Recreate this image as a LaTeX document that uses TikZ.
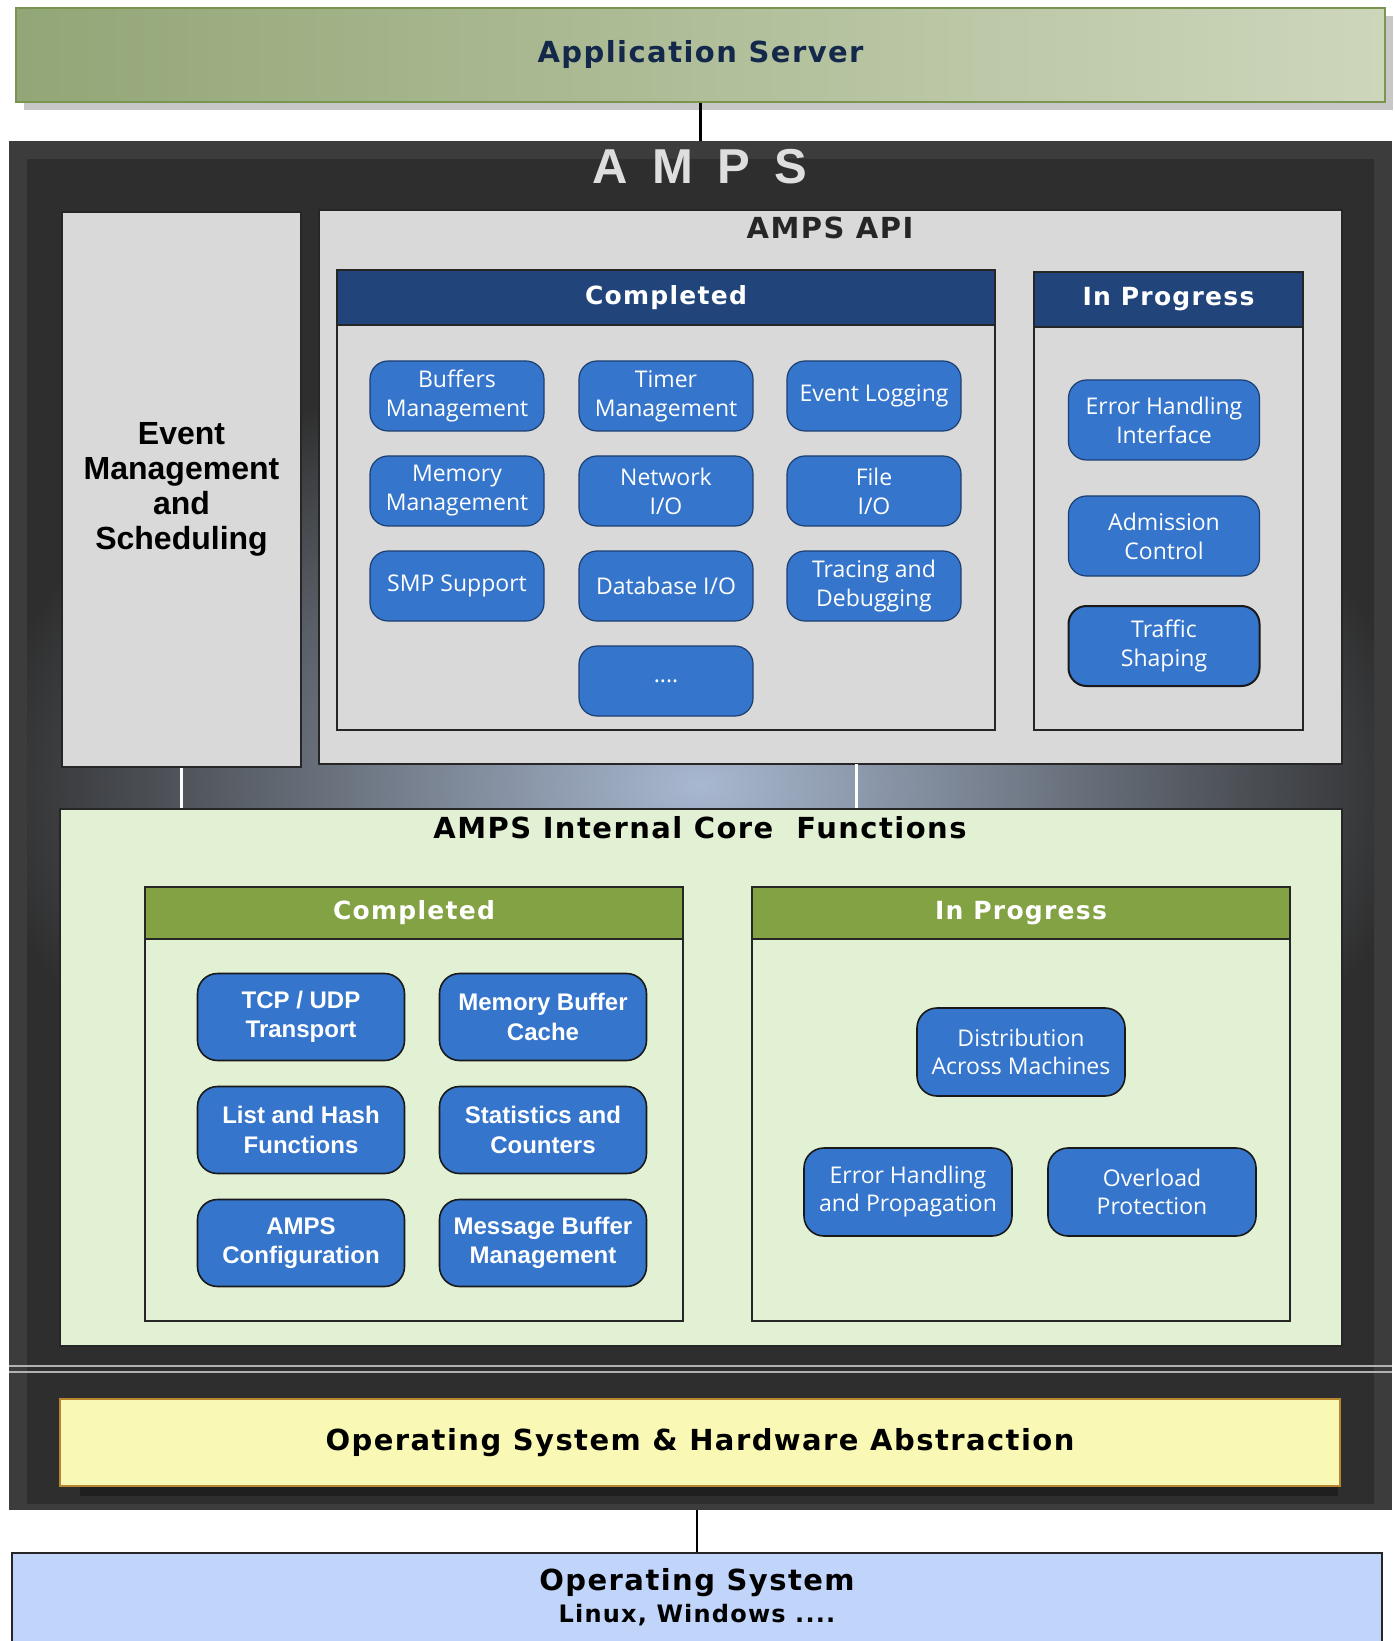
\documentclass[tikz,border=0pt]{standalone}
\usepackage{fontspec}
\setmainfont{Liberation Sans}
\newfontfamily\spacedfont[LetterSpace=5]{DejaVu Sans}
\newfontfamily\ampsfont[LetterSpace=50]{Liberation Sans}
\newfontfamily\boxfont{Open Sans}

\definecolor{frameouter}{HTML}{3C3C3C}
\definecolor{frameinner}{HTML}{2E2E2E}
\definecolor{glow}{HTML}{A8B8D0}
\definecolor{panelgrey}{HTML}{D9D9D9}
\definecolor{headblue}{HTML}{21457A}
\definecolor{boxblue}{HTML}{3575CC}
\definecolor{boxline}{HTML}{1D3F70}
\definecolor{coregreen}{HTML}{E2F1D4}
\definecolor{headgreen}{HTML}{82A244}
\definecolor{absyellow}{HTML}{F9F9B5}
\definecolor{absline}{HTML}{B8862E}
\definecolor{osblue}{HTML}{C1D4F9}
\definecolor{appdark}{HTML}{93A677}
\definecolor{applight}{HTML}{CDD6BB}
\definecolor{appline}{HTML}{7A9550}
\definecolor{apptext}{HTML}{13284A}

\tikzset{
  titletext/.style={font=\spacedfont\bfseries\fontsize{14.5}{17}\selectfont},
  panel/.style={draw=black!85, line width=0.8pt, inner sep=0pt},
  bluehead/.style={panel, fill=headblue, text=white, anchor=north,
    font=\spacedfont\bfseries\fontsize{12.5}{15}\selectfont},
  greenhead/.style={panel, fill=headgreen, text=white, anchor=north,
    font=\spacedfont\bfseries\fontsize{12.5}{15}\selectfont},
  apibox/.style={draw=boxline, line width=0.6pt, fill=boxblue, text=white,
    rounded corners=9pt, align=center, inner sep=0pt,
    minimum width=87pt, minimum height=35pt,
    font=\boxfont\fontsize{11.5}{14.5}\selectfont},
  progbox/.style={apibox, minimum width=95.5pt, minimum height=40pt},
  corebox/.style={draw=black!90, line width=0.8pt, fill=boxblue, text=white,
    rounded corners=10pt, align=center, inner sep=0pt,
    minimum width=103.5pt, minimum height=43.5pt,
    font=\bfseries\fontsize{12}{14.6}\selectfont},
  coreprog/.style={corebox, minimum width=104pt, minimum height=44pt,
    font=\boxfont\fontsize{11.5}{14}\selectfont},
}

\begin{document}
\begin{tikzpicture}[x=0.5pt, y=-0.5pt]
  \useasboundingbox (0,0) rectangle (1394,1641);
  \fill[white] (0,0) rectangle (1394,1641);

  % Application server on top
  \fill[black!22] (24,16) rectangle (1393,110);
  \node[draw=appline, line width=0.8pt, left color=appdark, right color=applight,
    minimum width=684.5pt, minimum height=47pt, inner sep=0pt,
    text=apptext, titletext] (appserver) at (700.5,55) {Application Server};

  % The dark AMPS frame
  \node[fill=frameouter, minimum width=691.5pt, minimum height=684.5pt,
    inner sep=0pt] (amps) at (700.5,825.5) {};
  \fill[frameinner] (27,159) rectangle (1374,1504);
  \begin{scope}
    \clip (27,159) rectangle (1374,1362);
    \shade[inner color=glow, outer color=frameinner] (700,785)
      ellipse [x radius=360pt, y radius=225pt];
  \end{scope}
  \node[text=black!13, font=\ampsfont\bfseries\fontsize{24.5}{28}\selectfont]
    (ampstitle) at (700,167) {AMPS};

  % Event management and the API
  \node[panel, fill=panelgrey, minimum width=119.5pt, minimum height=277.5pt,
    align=center, font=\bfseries\fontsize{16}{17.5}\selectfont]
    (event) at (181.5,489.5) {Event\\Management\\and\\Scheduling};
  \node[panel, fill=panelgrey, minimum width=511.5pt, minimum height=277pt]
    (api) at (830.5,487) {};
  \node[titletext, text=black!85] (apititle) at (830,228) {AMPS API};

  \node[panel, fill=panelgrey, minimum width=329pt, minimum height=230pt]
    (apidone) at (666,500) {};
  \node[bluehead, minimum width=329pt, minimum height=27.5pt]
    (apidonehead) at (apidone.north) {Completed};
  \node[panel, fill=panelgrey, minimum width=134.5pt, minimum height=229pt]
    (apiprog) at (1168.5,501) {};
  \node[bluehead, minimum width=134.5pt, minimum height=27.5pt]
    (apiproghead) at (apiprog.north) {In Progress};

  % API boxes
  \node[apibox] (buffers) at (457,396) {Buffers\\Management};
  \node[apibox] (timer) at (666,396) {Timer\\Management};
  \node[apibox] (logging) at (874,396) {Event Logging};
  \node[apibox] (memory) at (457,491) {Memory\\Management};
  \node[apibox] (netio) at (666,491) {Network\\I/O};
  \node[apibox] (fileio) at (874,491) {File\\I/O};
  \node[apibox] (smp) at (457,586) {SMP Support};
  \node[apibox] (dbio) at (666,586) {Database I/O};
  \node[apibox] (tracing) at (874,586) {Tracing and\\Debugging};
  \node[apibox] (more) at (666,681) {....};

  \node[progbox] (errif) at (1164,420) {Error Handling\\Interface};
  \node[progbox] (admission) at (1164,536) {Admission\\Control};
  \node[progbox, draw=black!90, line width=1pt] (traffic) at (1164,646) {Traffic\\Shaping};

  % Internal core
  \node[panel, fill=coregreen, minimum width=641pt, minimum height=268.5pt]
    (core) at (701,1077.5) {};
  \node[titletext] (coretitle) at (700,828) {AMPS Internal Core~~Functions};

  \node[panel, fill=coregreen, minimum width=269pt, minimum height=217pt]
    (coredone) at (414,1104) {};
  \node[greenhead, minimum width=269pt, minimum height=26pt]
    (coredonehead) at (coredone.north) {Completed};
  \node[panel, fill=coregreen, minimum width=269pt, minimum height=217pt]
    (coreprogpanel) at (1021,1104) {};
  \node[greenhead, minimum width=269pt, minimum height=26pt]
    (coreproghead) at (coreprogpanel.north) {In Progress};

  \node[corebox] (tcp) at (301,1017) {TCP / UDP\\Transport};
  \node[corebox] (bufcache) at (543,1017) {Memory Buffer\\Cache};
  \node[corebox] (listhash) at (301,1130) {List and Hash\\Functions};
  \node[corebox] (stats) at (543,1130) {Statistics and\\Counters};
  \node[corebox] (config) at (301,1243) {AMPS\\Configuration};
  \node[corebox] (msgbuf) at (543,1243) {Message Buffer\\Management};

  \node[coreprog] (distrib) at (1021,1052) {Distribution\\Across Machines};
  \node[coreprog] (errprop) at (908,1192) {Error Handling\\and Propagation};
  \node[coreprog] (overload) at (1152,1192) {Overload\\Protection};

  % Links into the core
  \coordinate (apilink) at (856,764);
  \draw[white, line width=1.5pt] (event.south) -- (event.south |- core.north);
  \draw[white, line width=1.5pt] (apilink) -- (apilink |- core.north);

  % Separator and abstraction layer
  \draw[black!30, line width=1.2pt] (9,1366) -- (1392,1366);
  \draw[black!30, line width=1.2pt] (9,1372) -- (1392,1372);
  \fill[black!88] (80,1409) rectangle (1338,1496);
  \node[draw=absline, line width=0.8pt, fill=absyellow, minimum width=640pt,
    minimum height=43.5pt, inner sep=0pt, titletext]
    (osabs) at (700,1442.5) {Operating System \& Hardware Abstraction};

  % Operating system at the bottom
  \node[draw=black!85, line width=0.8pt, fill=osblue, minimum width=685pt,
    minimum height=50pt, inner sep=0pt, anchor=north] (os) at (697,1552) {};
  \node[titletext] (ostitle) at (697,1583) {Operating System};
  \node[font=\spacedfont\bfseries\fontsize{12}{14}\selectfont] (oslist)
    at (697,1615) {Linux, Windows ....};

  % Connectors
  \draw[line width=1.5pt] (appserver.south) -- (amps.north);
  \draw[line width=1.2pt] (os.north) -- (os.north |- amps.south);
\end{tikzpicture}
\end{document}
